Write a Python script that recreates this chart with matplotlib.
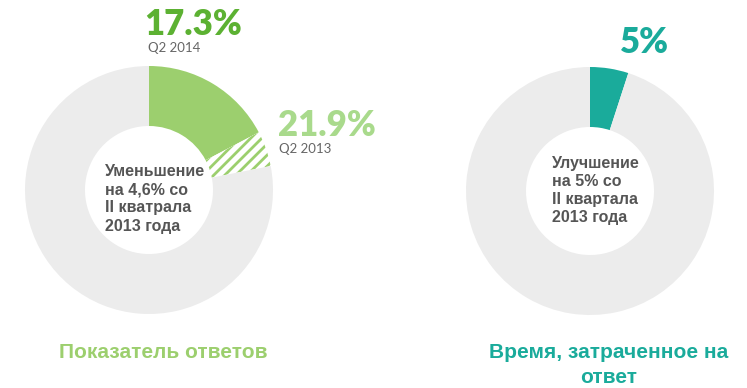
import matplotlib
matplotlib.use("Agg")
import matplotlib.pyplot as plt

# ---- data ----
resp_2014 = 17.3
resp_2013 = 21.9
time_improve = 5.0
big_labels = ["17.3%", "21.9%", "5%"]
sub_labels = ["Q2 2014", "Q2 2013"]
left_center_lines = ["Уменьшение", "на 4,6% со", "II кватрала", "2013 года"]
right_center_lines = ["Улучшение", "на 5% со", "II квартала", "2013 года"]
titles = ["Показатель ответов", "Время, затраченное на\nответ"]

GREEN = "#9ccf6e"
DGREEN = "#5cb132"
LGREEN = "#a9da8c"
TEAL = "#1aab9b"
GRAY = "#ececec"
TXT = "#555555"

plt.rcParams['hatch.linewidth'] = 2.0

W, H = 747, 388
fig = plt.figure(figsize=(W / 100, H / 100), dpi=100)
ax = fig.add_axes([0, 0, 1, 1])
ax.set_xlim(0, W)
ax.set_ylim(0, H)
ax.set_aspect('equal')
ax.axis('off')

def Y(yp):
    return H - yp

R_out = 124
ring = 60

# left donut
vals_left = [resp_2014, resp_2013 - resp_2014, 100 - resp_2013]
wedges, _ = ax.pie(vals_left, colors=[GREEN, "white", GRAY], startangle=90,
                   counterclock=False, center=(149, Y(190)), radius=R_out,
                   wedgeprops=dict(width=ring, linewidth=0))
wedges[1].set_hatch('///')
wedges[1].set_edgecolor(GREEN)
wedges[1].set_linewidth(0)

# right donut
vals_right = [time_improve, 100 - time_improve]
ax.pie(vals_right, colors=[TEAL, GRAY], startangle=90, counterclock=False,
       center=(590, Y(191)), radius=R_out,
       wedgeprops=dict(width=ring, linewidth=0))
ax.set_xlim(0, W)
ax.set_ylim(0, H)

bigfont = dict(family='Lato', weight='heavy', fontsize=25)
ax.text(144, Y(35), big_labels[0], color=DGREEN, va='baseline', ha='left', **bigfont)
ax.text(148, Y(52), sub_labels[0], color="#666666", va='baseline', ha='left',
        family='Lato', fontsize=9.5)
ax.text(278, Y(136), big_labels[1], color=LGREEN, va='baseline', ha='left', **bigfont)
ax.text(279, Y(153), sub_labels[1], color="#666666", va='baseline', ha='left',
        family='Lato', fontsize=9.5)
ax.text(620, Y(53), big_labels[2], color=TEAL, va='baseline', ha='left', **bigfont)

cfont = dict(family='Liberation Sans', weight='bold', fontsize=11.5, color=TXT)
for i, line in enumerate(left_center_lines):
    ax.text(105, Y(176 + 18.2 * i), line, va='baseline', ha='left', **cfont)
for i, line in enumerate(right_center_lines):
    ax.text(552, Y(168 + 18 * i), line, va='baseline', ha='left', **cfont)

tfont = dict(family='Liberation Sans', weight='bold', fontsize=15)
ax.text(163, Y(358), titles[0], color=GREEN, va='baseline', ha='center', **tfont)
t2 = titles[1].split("\n")
ax.text(609, Y(358), t2[0], color=TEAL, va='baseline', ha='center', **tfont)
ax.text(609, Y(383), t2[1], color=TEAL, va='baseline', ha='center', **tfont)

fig.savefig("out.png", dpi=100)
